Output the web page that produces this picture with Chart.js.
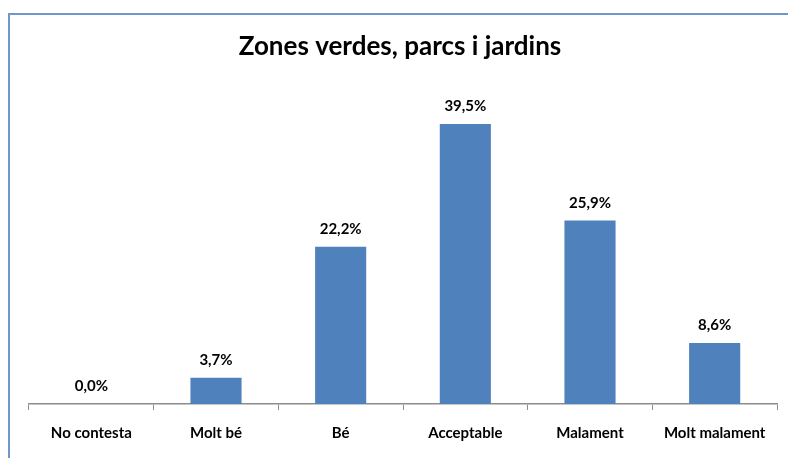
<!DOCTYPE html>
<html><head><meta charset="utf-8">
<script src="https://cdn.jsdelivr.net/npm/chart.js@4/dist/chart.umd.min.js"></script>
<style>html,body{margin:0;padding:0;background:#fff;}#wrap{width:788px;height:458px;position:relative;}</style>
</head><body><div id="wrap"><canvas id="c" width="788" height="458"></canvas></div>
<script>
const categories = ["No contesta","Molt bé","Bé","Acceptable","Malament","Molt malament"];
const values = [0.0, 3.7, 22.2, 39.5, 25.9, 8.6];
const valueLabels = ["0,0%","3,7%","22,2%","39,5%","25,9%","8,6%"];
const titleText = "Zones verdes, parcs i jardins";

const frame = {
  id:'frame',
  beforeDraw(chart){
    const c = chart.ctx;
    c.save();
    c.fillStyle='#fff'; c.fillRect(0,0,chart.width,chart.height);
    c.strokeStyle='#7097CB'; c.lineWidth=2;
    c.strokeRect(9,14,900,600);
    c.fillStyle='#000'; c.font='bold 26px Lato';
    c.textAlign='center'; c.textBaseline='middle';
    c.fillText(titleText, 400, 47);
    c.restore();
  }
};
const labelsPlugin = {
  id:'vlabels',
  afterDatasetsDraw(chart){
    const c = chart.ctx; const meta = chart.getDatasetMeta(0);
    c.save(); c.fillStyle='#000'; c.font='bold 15px Lato';
    c.textAlign='center'; c.textBaseline='bottom';
    meta.data.forEach((b,i)=>{ c.fillText(valueLabels[i], b.x, b.y-10); });
    c.restore();
  }
};
new Chart(document.getElementById('c'), {
  type:'bar',
  data:{labels:categories, datasets:[{data:values, backgroundColor:'#4F81BD', barPercentage:0.41, categoryPercentage:1}]},
  options:{
    responsive:false, animation:false,
    layout:{padding:{left:29,right:11,top:85,bottom:0}},
    plugins:{legend:{display:false}, title:{display:false}, tooltip:{enabled:false}},
    scales:{
      x:{
        grid:{display:true, drawOnChartArea:false, drawTicks:true, tickLength:6, offset:true, color:'#8C8C8C'},
        border:{display:true, color:'#8C8C8C', width:1.5},
        ticks:{color:'#000', font:{family:'Lato', weight:'bold', size:15}, padding:14, maxRotation:0},
        afterFit:(s)=>{s.height=54;}
      },
      y:{display:false, min:0, max:45}
    }
  },
  plugins:[frame, labelsPlugin]
});
</script></body></html>
